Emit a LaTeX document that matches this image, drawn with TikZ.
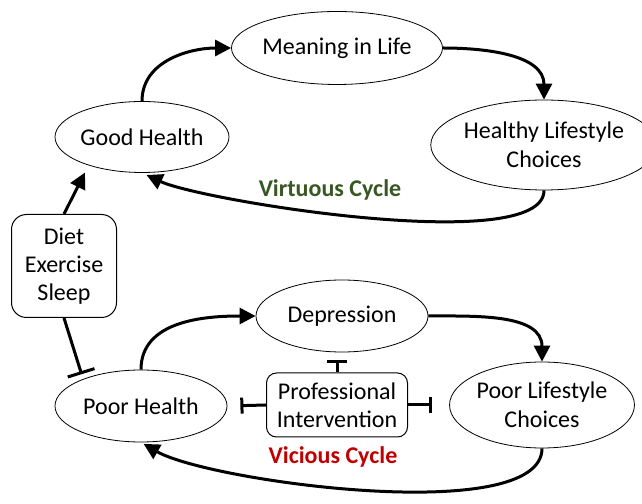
\documentclass[tikz,border=0pt]{standalone}
\usepackage{fontspec}
\setmainfont{Carlito}
\usepackage{tikz}
\usetikzlibrary{shapes,shapes.geometric,arrows,positioning,calc,arrows.meta}
\usepackage{xcolor}
\definecolor{virtuegreen}{HTML}{385723}
\definecolor{vicered}{HTML}{C00000}

\begin{document}
\begin{tikzpicture}[
    x=1pt, y=1pt,
    state/.style={ellipse, draw=black, line width=0.8pt, inner sep=0pt, align=center, font=\fontsize{24}{29}\selectfont},
    habit/.style={rectangle, rounded corners=15pt, draw=black, line width=1pt, align=center, inner sep=0pt, font=\fontsize{24}{28}\selectfont},
    arrow/.style={-{Triangle[length=16pt,width=16pt]}, line width=3pt},
    blocker/.style={-{Bar[width=20pt]}, line width=3pt},
    cyclelabel/.style={font=\fontsize{24}{29}\selectfont\bfseries}
]
\useasboundingbox (0,0) rectangle (642,503);

% Virtuous cycle
\node[state, minimum width=170pt, minimum height=73pt] (meaning) at (337, 455) {Meaning in Life};
\node[state, minimum width=170pt, minimum height=71pt] (goodh) at (142, 366) {Good Health};
\node[state, minimum width=182pt, minimum height=90pt] (healthy) at (544, 358) {Healthy Lifestyle\\Choices};

% Vicious cycle
\node[state, minimum width=172pt, minimum height=72pt] (depression) at (342, 187) {Depression};
\node[state, minimum width=172pt, minimum height=72pt] (poorh) at (141, 97) {Poor Health};
\node[state, minimum width=180pt, minimum height=86pt] (poorls) at (542, 98) {Poor Lifestyle\\Choices};

% Interventions
\node[habit, minimum width=105pt, minimum height=103pt] (diet) at (64, 237) {Diet\\Exercise\\Sleep};
\node[habit, rounded corners=10pt, minimum width=141pt, minimum height=64pt] (prof) at (337, 98) {Professional\\Intervention};

% Arrows
\draw[arrow] (goodh.north) to[out=90, in=180] (meaning.west);
\draw[arrow] (meaning.east) to[out=0, in=90] (healthy.north);
\draw[arrow, shorten >=5pt] (healthy.south) to[out=-90, in=-25, looseness=0.42] (goodh.south);
\draw[arrow] (poorh.north) to[out=90, in=180] (depression.west);
\draw[arrow] (depression.east) to[out=0, in=90] (poorls.north);
\draw[arrow, shorten >=3pt] (poorls.south) to[out=-90, in=-30, looseness=0.5] (poorh.south);
\draw[arrow, shorten >=8pt] (diet.north) -- (goodh.208);

% Blocking
\draw[blocker, -{Bar[width=28pt]}, shorten >=5pt] (diet.south) -- (poorh.155);
\draw[blocker, shorten >=8pt] (prof.north) -- (prof.north |- depression.south);
\draw[blocker, -{Bar[width=16pt]}, shorten >=13pt] (prof.west) -- (poorh.east);
\draw[blocker, -{Bar[width=16pt]}, shorten >=17pt] (prof.east) -- (poorls.west);

% Labels
\node[cyclelabel, text=virtuegreen] (virtuous) at (330, 313) {Virtuous Cycle};
\node[cyclelabel, text=vicered] (vicious) at (333, 46) {Vicious Cycle};

\end{tikzpicture}
\end{document}
